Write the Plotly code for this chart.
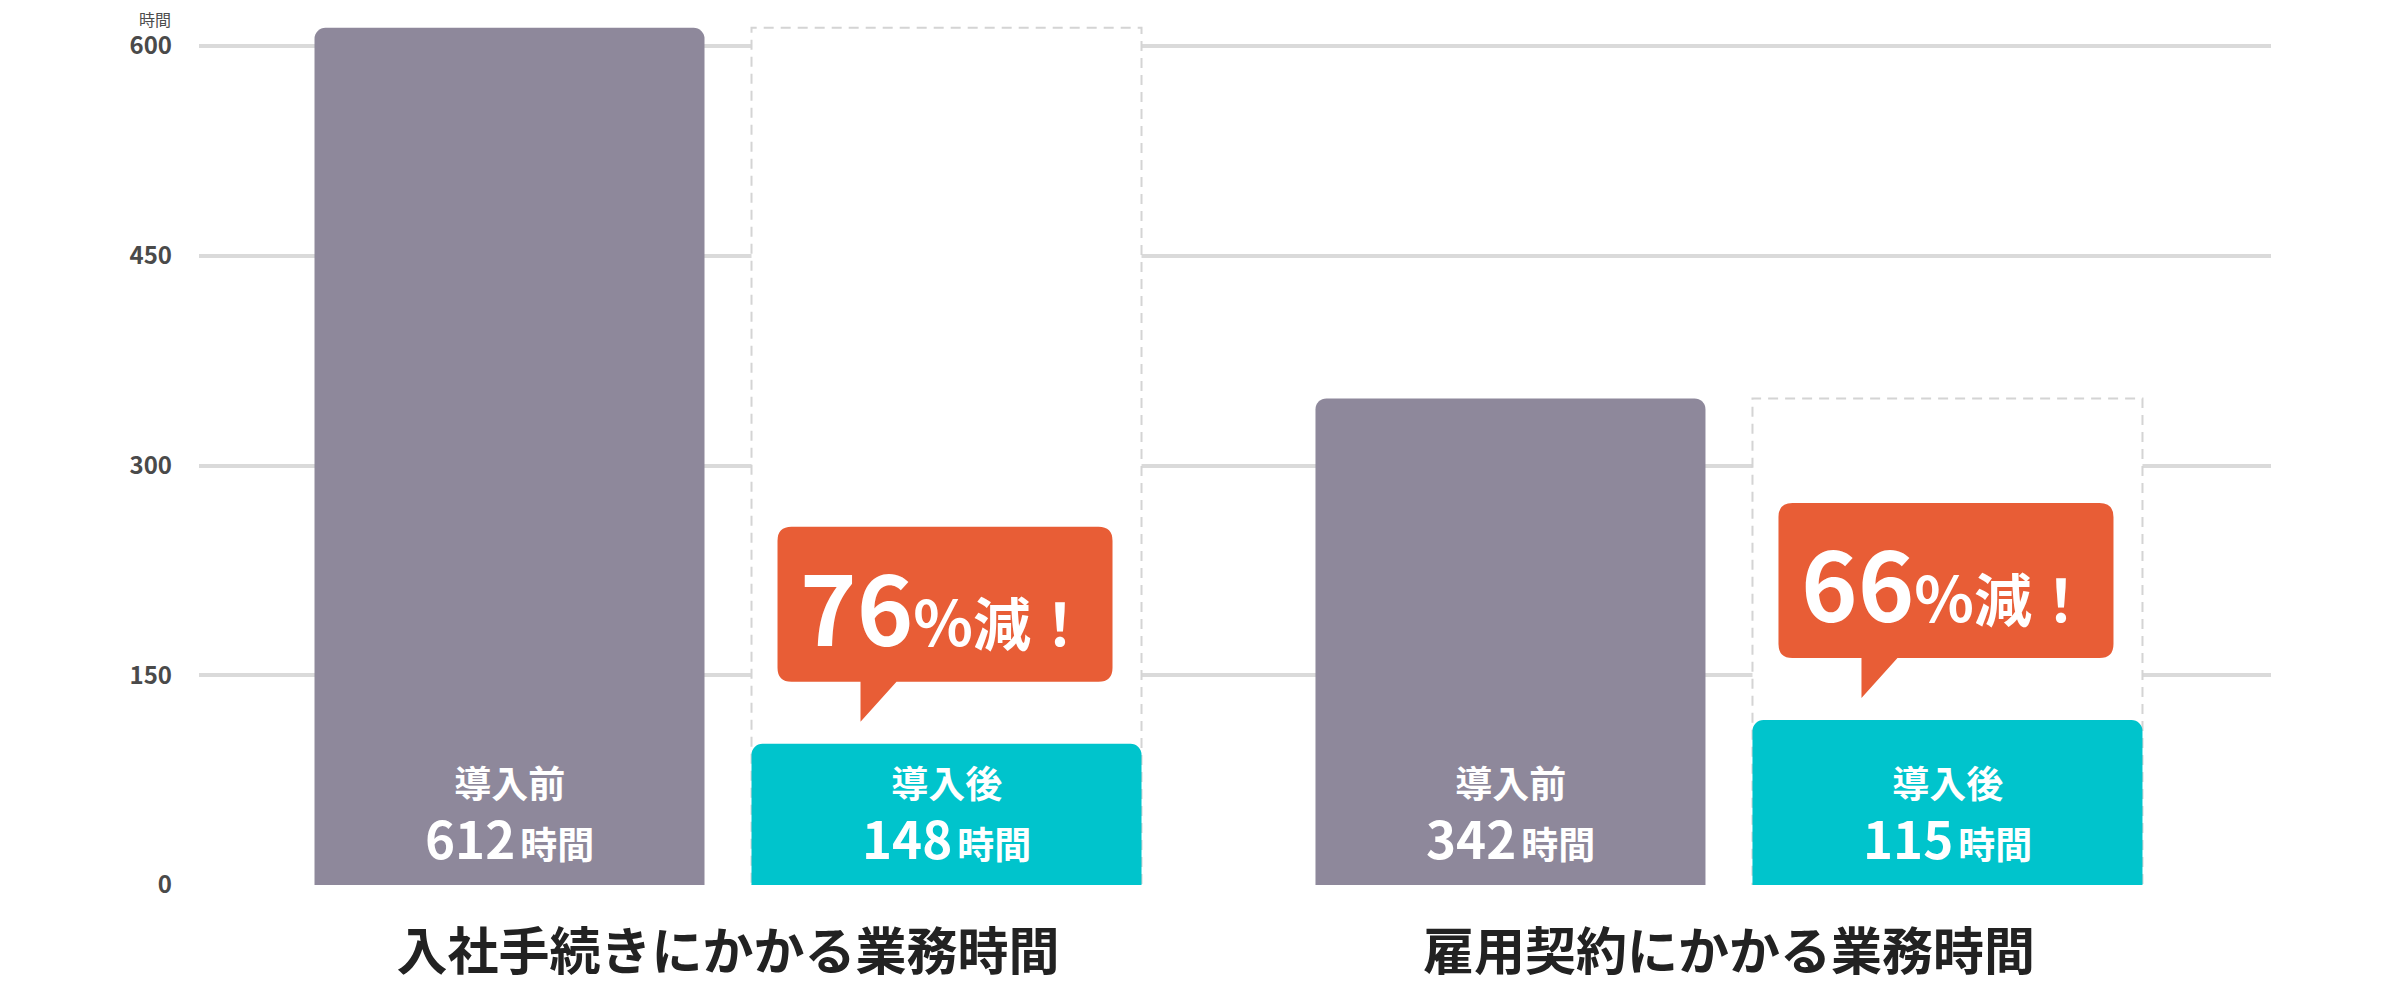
import plotly.graph_objects as go

# ---------------- data ----------------
categories = ["入社手続きにかかる業務時間", "雇用契約にかかる業務時間"]
series_names = ["導入前", "導入後"]
label_before = [612, 342]          # hours written on the bars
label_after = [148, 115]
drawn_before = [613, 348]          # bar heights as drawn in the picture
drawn_after = [101, 118]
y_ticks = [0, 150, 300, 450, 600]
y_unit = "時間"

# ---------------- style / layout ----------------
# the page body has an 8px margin; the figure is offset by it
W, H = 2384, 990
PAGE_OFF = 8


def fy(t):                         # target picture y -> figure y
    return t - PAGE_OFF


PX_Y = (885 - 46) / 600.0          # px per hour
ML, MR, MT = 191, 121, 0
MB = H - fy(885)
Y_MAX = (H - MT - MB) / PX_Y
X_RANGE = [-0.5285, 1.5415]
PX_X = (W - ML - MR) / (X_RANGE[1] - X_RANGE[0])
OFF = 218.5 / PX_X
BAR_W = 390 / PX_X

C_BEFORE = "#8E889B"
C_AFTER = "#00C4CC"
C_CALL = "#E85D36"
C_GRID = "#DADADA"
FONT = "Noto Sans CJK JP"

centers = list(range(len(categories)))
x_before = [c - OFF for c in centers]
x_after = [c + OFF for c in centers]

fig = go.Figure()
fig.add_trace(go.Bar(x=x_before, y=drawn_before, width=BAR_W, name=series_names[0],
                     marker=dict(color=C_BEFORE, line=dict(width=0), cornerradius=11),
                     hoverinfo="skip"))
fig.add_trace(go.Bar(x=x_after, y=drawn_after, width=BAR_W, name=series_names[1],
                     marker=dict(color=C_AFTER, line=dict(width=0), cornerradius=11),
                     hoverinfo="skip"))

shapes = []
annotations = []

# ghost (dashed) boxes at the "before" height behind the "after" bars
for xa, hb in zip(x_after, drawn_before):
    shapes.append(dict(type="rect", xref="x", yref="y",
                       x0=xa - BAR_W / 2, x1=xa + BAR_W / 2, y0=0, y1=hb,
                       line=dict(color="#D4D4D4", width=2, dash="10px,7px"),
                       fillcolor="white", layer="between"))

# callout bubbles
for xa, ha, lb, la in zip(x_after, drawn_after, label_before, label_after):
    pct = round((1 - la / lb) * 100)
    xl = xa - 169 / PX_X
    xr = xa + 166 / PX_X
    yb = ha + 62 / PX_Y
    yt = yb + 155 / PX_Y
    rx, ry = 14 / PX_X, 14 / PX_Y
    tl = xa - 86 / PX_X
    tr = xa - 50 / PX_X
    tip = yb - 40 / PX_Y
    path = (f"M {xl+rx},{yt} L {xr-rx},{yt} Q {xr},{yt} {xr},{yt-ry} "
            f"L {xr},{yb+ry} Q {xr},{yb} {xr-rx},{yb} L {tr},{yb} L {tl},{tip} "
            f"L {tl},{yb} L {xl+rx},{yb} Q {xl},{yb} {xl},{yb+ry} "
            f"L {xl},{yt-ry} Q {xl},{yt} {xl+rx},{yt} Z")
    shapes.append(dict(type="path", xref="x", yref="y", path=path,
                       fillcolor=C_CALL, line=dict(width=0), layer="above"))
    annotations.append(dict(
        x=xa - 2 / PX_X, y=(yb + yt) / 2, xref="x", yref="y", showarrow=False,
        xanchor="center", yanchor="middle",
        text=(f"<b><span style='font-size:96px'>{pct}</span>"
              f"<span style='font-size:62px'>%</span>"
              f"<span style='font-size:58px'>減！</span></b>"),
        font=dict(family=FONT, color="white", size=58)))

# labels inside the bars (name on the first line, hours on the second)
for xs, labels, name in ((x_before, label_before, series_names[0]),
                         (x_after, label_after, series_names[1])):
    for xv, lv in zip(xs, labels):
        annotations.append(dict(
            x=xv, y=0, xref="x", yref="paper", yshift=71,
            showarrow=False, xanchor="center", yanchor="middle", align="center",
            text=(f"<b><span style='font-size:37px'>{name}</span></b><br>"
                  f"<b><span style='font-size:51px'>{lv}</span>"
                  f"<span style='font-size:22px'> </span>"
                  f"<span style='font-size:37px'>{y_unit}</span></b>"),
            font=dict(family=FONT, color="white", size=47)))

# unit label above the y axis
annotations.append(dict(x=-26 / (W - ML - MR), y=(885 - 19) / PX_Y, xref="paper", yref="y",
                        showarrow=False, xanchor="right", yanchor="middle",
                        text=y_unit, font=dict(family=FONT, color="#4D4D4D", size=16)))

fig.update_layout(
    width=W, height=H, autosize=False,
    margin=dict(l=ML, r=MR, t=MT, b=MB, pad=0),
    paper_bgcolor="white", plot_bgcolor="white",
    showlegend=False, barmode="overlay",
    shapes=shapes, annotations=annotations,
    xaxis=dict(range=X_RANGE, tickmode="array", tickvals=centers, ticktext=categories,
               automargin=False,
               showgrid=False, zeroline=False, showline=False, ticks="",
               ticklabelstandoff=33,
               tickfont=dict(family=FONT, size=51, color="#222222", weight="bold")),
    yaxis=dict(range=[0, Y_MAX], tickmode="array", tickvals=y_ticks, automargin=False,
               showgrid=True, gridcolor=C_GRID, gridwidth=4, zeroline=False,
               showline=False, ticks="", ticklabelstandoff=26,
               tickfont=dict(family=FONT, size=24, color="#4A4A4A", weight="bold")),
)

fig.write_html("out.html")
